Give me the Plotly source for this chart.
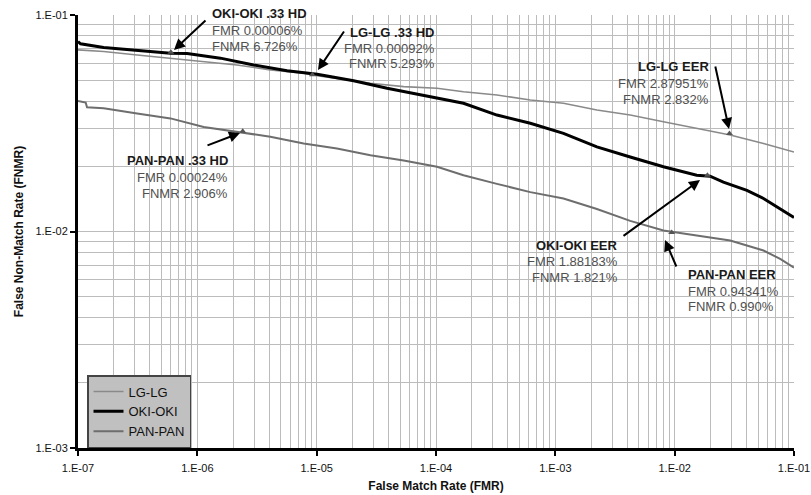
import plotly.graph_objects as go

# ---------------- data ----------------
series_names = ["LG-LG", "OKI-OKI", "PAN-PAN"]

lg_fmr = [1.00e-7, 1.64e-7, 3.13e-7, 5.96e-7, 1.13e-6, 2.15e-6, 4.09e-6, 7.78e-6, 1.01e-5,
          1.48e-5, 2.82e-5, 5.36e-5, 1.02e-4, 1.70e-4, 3.24e-4, 6.17e-4, 1.17e-3, 2.23e-3,
          4.24e-3, 8.05e-3, 1.53e-2, 2.92e-2, 5.55e-2, 1.00e-1]
lg_fnmr = [0.0690, 0.0678, 0.0654, 0.0632, 0.0609, 0.0588, 0.0558, 0.0538, 0.0525,
           0.0510, 0.0484, 0.0467, 0.0459, 0.0442, 0.0427, 0.0405, 0.0391, 0.0364,
           0.0345, 0.0321, 0.0299, 0.0279, 0.0255, 0.0233]

oki_fmr = [1.00e-7, 1.05e-7, 1.64e-7, 3.13e-7, 5.96e-7, 8.22e-7, 1.56e-6, 2.96e-6, 5.65e-6,
           1.01e-5, 2.04e-5, 3.89e-5, 7.40e-5, 1.02e-4, 1.70e-4, 3.24e-4, 6.17e-4, 1.17e-3,
           2.23e-3, 4.24e-3, 8.05e-3, 1.53e-2, 1.98e-2, 2.56e-2, 4.03e-2, 5.55e-2, 7.66e-2,
           1.00e-1]
oki_fnmr = [0.0754, 0.0736, 0.0708, 0.0685, 0.0666, 0.0664, 0.0632, 0.0588, 0.0553,
            0.0533, 0.0497, 0.0459, 0.0427, 0.0412, 0.0391, 0.0345, 0.0316, 0.0284,
            0.0246, 0.0221, 0.0199, 0.0182, 0.0180, 0.0169, 0.0155, 0.0142, 0.0127,
            0.0116]

pan_fmr = [1.00e-7, 1.16e-7, 1.19e-7, 1.64e-7, 3.13e-7, 5.96e-7, 1.13e-6, 2.15e-6, 4.09e-6,
           7.78e-6, 1.48e-5, 2.82e-5, 5.36e-5, 1.02e-4, 1.70e-4, 3.24e-4, 6.17e-4, 1.17e-3,
           2.23e-3, 4.24e-3, 8.05e-3, 1.53e-2, 2.92e-2, 5.55e-2, 7.66e-2, 1.00e-1]
pan_fnmr = [0.0401, 0.0394, 0.0375, 0.0371, 0.0351, 0.0333, 0.0304, 0.0289, 0.0274,
            0.0255, 0.0242, 0.0225, 0.0213, 0.0199, 0.0182, 0.0166, 0.0152, 0.0142,
            0.0127, 0.0112, 0.0101, 0.00958, 0.00909, 0.00817, 0.00747, 0.00681]

# operating points (FMR, FNMR as fractions)
op_labels = ["OKI-OKI .33 HD", "LG-LG .33 HD", "PAN-PAN .33 HD",
             "LG-LG EER", "OKI-OKI EER", "PAN-PAN EER"]
op_fmr = [6.0e-7, 9.2e-6, 2.4e-6, 2.87951e-2, 1.88183e-2, 9.4341e-3]
op_fnmr = [0.06726, 0.05293, 0.02906, 0.02832, 0.01821, 0.00990]
op_fmr_text = ["0.00006%", "0.00092%", "0.00024%", "2.87951%", "1.88183%", "0.94341%"]
op_fnmr_text = ["6.726%", "5.293%", "2.906%", "2.832%", "1.821%", "0.990%"]

x_tickvals = [1e-7, 1e-6, 1e-5, 1e-4, 1e-3, 1e-2, 1e-1]
x_ticktext = ["1.E-07", "1.E-06", "1.E-05", "1.E-04", "1.E-03", "1.E-02", "1.E-01"]
y_tickvals = [1e-3, 1e-2, 1e-1]
y_ticktext = ["1.E-03", "1.E-02", "1.E-01"]

# ---------------- figure ----------------
W, H = 811, 495
ML, MR, MT, MB = 78, 17, 15, 47
PW, PH = W - ML - MR, H - MT - MB

def px(x):
    return (x - ML) / PW

def py(y):
    return (H - MB - y) / PH

FONT = "Liberation Sans, Arial, sans-serif"

fig = go.Figure()
fig.add_trace(go.Scatter(x=lg_fmr, y=lg_fnmr, mode="lines", name=series_names[0],
                         line=dict(color="#8a8a8a", width=1.6)))
fig.add_trace(go.Scatter(x=oki_fmr, y=oki_fnmr, mode="lines", name=series_names[1],
                         line=dict(color="#000000", width=3)))
fig.add_trace(go.Scatter(x=pan_fmr, y=pan_fnmr, mode="lines", name=series_names[2],
                         line=dict(color="#6e6e6e", width=2)))
fig.add_trace(go.Scatter(x=op_fmr, y=op_fnmr, mode="markers", showlegend=False,
                         marker=dict(symbol="triangle-up", size=6, color="#555555")))

minor_vals = [m * 10.0 ** e for e in range(-8, 0) for m in range(2, 10)]
grid_col = "#bcbcbc"

fig.update_xaxes(type="log", range=[-7, -1], tickmode="array", tickvals=x_tickvals,
                 ticktext=x_ticktext, showgrid=True, gridcolor=grid_col, gridwidth=1.2,
                 minor=dict(tickmode="array", tickvals=minor_vals, showgrid=True,
                            gridcolor=grid_col, gridwidth=1.2, ticks=""),
                 showline=True, linecolor="black", linewidth=3,
                 ticks="outside", ticklen=5, tickwidth=2, tickcolor="black",
                 ticklabelstandoff=3, automargin=False,
                 tickfont=dict(family=FONT, size=11, color="#111"),
                 title=dict(text="<b>False Match Rate (FMR)</b>",
                            font=dict(family=FONT, size=12, color="#111"), standoff=9),
                 zeroline=False)
fig.update_yaxes(type="log", range=[-3, -1], tickmode="array", tickvals=y_tickvals,
                 ticktext=y_ticktext, showgrid=True, gridcolor=grid_col, gridwidth=1.2,
                 minor=dict(tickmode="array", tickvals=minor_vals, showgrid=True,
                            gridcolor=grid_col, gridwidth=1.2, ticks=""),
                 showline=True, linecolor="black", linewidth=3,
                 ticks="outside", ticklen=5, tickwidth=2, tickcolor="black",
                 automargin=False,
                 tickfont=dict(family=FONT, size=11, color="#111"),
                 title=dict(text="<b>False Non-Match Rate (FNMR)</b>",
                            font=dict(family=FONT, size=12, color="#111"), standoff=10),
                 zeroline=False)

annotations = []
# text blocks: (label index, anchor x px, xanchor, line centre ys)
blocks = [
    (0, 210, "left", (13, 30.5, 46)),
    (1, 437, "right", (32, 48, 63.5)),
    (2, 230, "right", (160, 177.5, 193)),
    (3, 711, "right", (67, 84, 99)),
    (4, 620, "right", (245, 261.5, 277)),
    (5, 686, "left", (274.5, 291, 306.5)),
]
for i, xp, xa, ys in blocks:
    lines = [("<b>" + op_labels[i] + "</b>", "#1a1a1a"),
             ("FMR " + op_fmr_text[i], "#505050"),
             ("FNMR " + op_fnmr_text[i], "#505050")]
    for (txt, col), yy in zip(lines, ys):
        annotations.append(dict(xref="paper", yref="paper", x=px(xp), y=py(yy),
                                text=txt, showarrow=False, xanchor=xa, yanchor="middle",
                                font=dict(family=FONT, size=13, color=col)))

# arrows: head (px) and tail (px)
arrows = [((174, 50), (207, 19)),
          ((318, 70), (345, 30)),
          ((240, 133), (206, 146)),
          ((729, 129), (715, 65)),
          ((700, 180), (622, 237)),
          ((665, 240), (677, 268))]
for (hx, hy), (tx, ty) in arrows:
    annotations.append(dict(xref="paper", yref="paper", x=px(hx), y=py(hy),
                            ax=tx - hx, ay=ty - hy, text="", showarrow=True,
                            arrowhead=2, arrowsize=1.1, arrowwidth=2, arrowcolor="#000",
                            standoff=0, startstandoff=0))

fig.update_layout(
    width=W, height=H,
    margin=dict(l=ML, r=MR, t=MT, b=MB, pad=0, autoexpand=False),
    paper_bgcolor="white", plot_bgcolor="white",
    font=dict(family=FONT, color="#111"),
    showlegend=True,
    legend=dict(x=px(87), y=py(375), xanchor="left", yanchor="top",
                bgcolor="#c0c0c0", bordercolor="#444", borderwidth=1.5,
                font=dict(family=FONT, size=13, color="#111"),
                itemwidth=30, tracegroupgap=0),
    annotations=annotations,
)

fig.write_html("out.html")
